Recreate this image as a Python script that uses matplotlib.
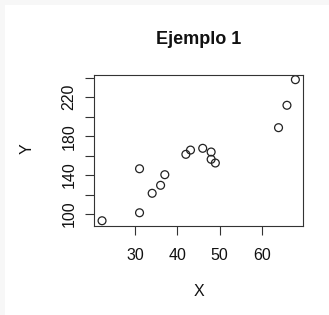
import matplotlib
matplotlib.use("Agg")
import matplotlib.pyplot as plt
from matplotlib.patches import Rectangle

x_vals = [22.1, 31.0, 31.0, 34.0, 36.0, 37.0, 42.0, 43.1, 46.0, 48.0, 48.0, 49.0, 64.0, 66.0, 68.0]
y_vals = [93.1, 101.3, 146.5, 121.3, 129.5, 140.4, 161.3, 165.7, 167.5, 163.7, 156.2, 152.4, 188.7, 211.7, 238.0]
x_ticks = [30, 40, 50, 60]
y_ticks = [100, 120, 140, 160, 180, 200, 220, 240]
y_tick_labels = ["100", "", "140", "", "180", "", "220", ""]
title = "Ejemplo 1"
x_label = "X"
y_label = "Y"

plt.rcParams['font.family'] = ['Liberation Sans', 'DejaVu Sans']

W, H = 329, 315
fig = plt.figure(figsize=(W / 100, H / 100), dpi=100)
fig.patch.set_facecolor('#f7f7f7')
fig.patches.append(Rectangle((5 / W, 0), 1, 1 - 5 / H, transform=fig.transFigure,
                             facecolor='white', edgecolor='none', zorder=-10))

left, right, top, bottom = 94, 303.3, 75, 226
ax = fig.add_axes([left / W, 1 - bottom / H, (right - left) / W, (bottom - top) / H])

ax.scatter(x_vals, y_vals, s=32, facecolors='none', edgecolors='#222222', linewidths=0.9)

ax.set_xlim(20.19, 69.88)
ax.set_ylim(87.7, 242.8)
ax.set_xticks(x_ticks)
ax.set_yticks(y_ticks)
ax.set_yticklabels(y_tick_labels)
ax.tick_params(axis='both', length=6.5, width=0.8, color='#333333', labelsize=11.5,
               labelcolor='#111111')
ax.tick_params(axis='x', pad=9)
ax.tick_params(axis='y', pad=6, labelrotation=90)
for lab in ax.get_yticklabels():
    lab.set_va('center')
for sp in ax.spines.values():
    sp.set_linewidth(0.8)
    sp.set_color('#333333')

fig.text(198.5 / W, 1 - 39.5 / H, title, ha='center', va='center', fontsize=13,
         fontweight='bold', color='#111111')
fig.text(198.5 / W, 1 - 291 / H, x_label, ha='center', va='center', fontsize=11.5,
         color='#111111')
fig.text(27 / W, 1 - 149 / H, y_label, ha='center', va='center', fontsize=11.5,
         rotation=90, color='#111111')

fig.savefig('out.png', dpi=100, facecolor=fig.get_facecolor())
